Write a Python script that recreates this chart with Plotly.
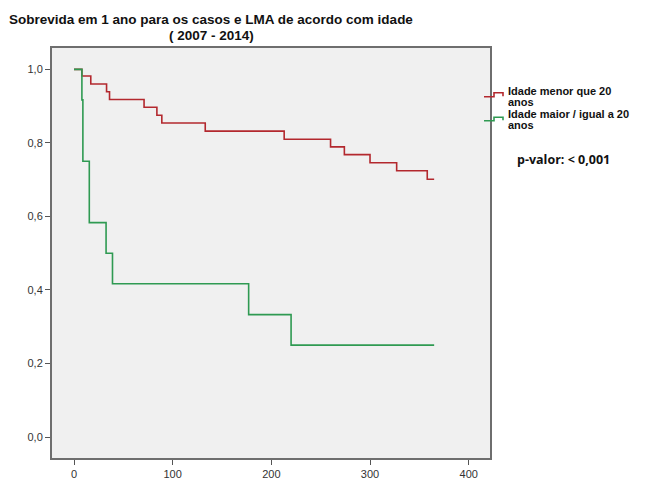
import plotly.graph_objects as go

# Kaplan-Meier survival estimates (days since diagnosis, cumulative survival)
dias_menor20 = [0, 8, 17, 33, 36, 71, 84, 89, 133, 213, 260, 274, 300, 327, 358, 365]
sobrev_menor20 = [1.0, 0.982, 0.960, 0.939, 0.918, 0.897, 0.875, 0.854, 0.832,
                  0.810, 0.789, 0.768, 0.746, 0.724, 0.701, 0.701]

dias_maior20 = [0, 8, 9, 15.5, 32.5, 39, 177, 220, 365]
sobrev_maior20 = [1.0, 0.917, 0.750, 0.583, 0.500, 0.417, 0.333, 0.250, 0.250]

grupos = ["Idade menor que 20<br>anos", "Idade maior / igual a 20<br>anos"]
cores = ["#b3282e", "#2f9a52"]
x_ticks = [0, 100, 200, 300, 400]
y_ticks = [0.0, 0.2, 0.4, 0.6, 0.8, 1.0]

W, H = 654, 495
L, R, T, B = 52, 164, 48, 37


def px(x):
    return (x - L) / (W - L - R)


def py(y):
    return 1 - (y - T) / (H - T - B)


fig = go.Figure()
for dias, sob, cor in [(dias_menor20, sobrev_menor20, cores[0]),
                       (dias_maior20, sobrev_maior20, cores[1])]:
    fig.add_trace(go.Scatter(x=dias, y=sob, mode="lines", line_shape="hv",
                             line=dict(color=cor, width=1.6), showlegend=False,
                             hoverinfo="skip"))

# legend: small step icons plus labels to the right of the plot
legenda_y = [(96.7, 92.7, 90.5, 101.5), (120.7, 117.2, 114, 125.5)]
for (y_lo, y_hi, _, _), cor in zip(legenda_y, cores):
    pts = [(484, y_lo), (494, y_lo), (494, y_hi), (503, y_hi), (503, y_lo - 0.5)]
    path = "M " + " L ".join(f"{px(a):.5f},{py(b):.5f}" for a, b in pts)
    fig.add_shape(type="path", path=path, xref="paper", yref="paper",
                  line=dict(color=cor, width=1.6))

annotations = []
for (y_lo, y_hi, y1, y2), texto in zip(legenda_y, grupos):
    linha1, linha2 = texto.split("<br>")
    for yy, t in [(y1, linha1), (y2, linha2)]:
        annotations.append(dict(x=px(506), y=py(yy), xref="paper", yref="paper",
                                text=f"<b>{t}</b>", showarrow=False,
                                xanchor="left", yanchor="middle",
                                font=dict(family="Liberation Sans", size=11, color="#111")))

annotations.append(dict(x=px(515), y=py(159), xref="paper", yref="paper",
                        text="<b>p-valor: < 0,001</b>", showarrow=False,
                        xanchor="left", yanchor="middle",
                        font=dict(family="Open Sans", size=12.5, color="#111")))

annotations.append(dict(x=px(211), y=py(20), xref="paper", yref="paper",
                        text="<b>Sobrevida em 1 ano para os casos e LMA de acordo com idade</b>",
                        showarrow=False, xanchor="center", yanchor="middle",
                        font=dict(family="Liberation Sans", size=13.5, color="#111")))
annotations.append(dict(x=px(211), y=py(35.5), xref="paper", yref="paper",
                        text="<b>( 2007 - 2014)</b>",
                        showarrow=False, xanchor="center", yanchor="middle",
                        font=dict(family="Liberation Sans", size=13.5, color="#111")))

fig.update_layout(
    width=W, height=H,
    margin=dict(l=L, r=R, t=T, b=B, pad=0),
    paper_bgcolor="white", plot_bgcolor="#f0f0f0",
    separators=",.",
    annotations=annotations,
    xaxis=dict(range=[-22.3, 421.6], tickvals=x_ticks, ticks="outside", ticklen=5,
               tickcolor="#555", showgrid=False, zeroline=False, showline=True,
               linecolor="#6e6e6e", linewidth=2, mirror=True,
               tickfont=dict(family="Liberation Sans", size=11, color="#333")),
    yaxis=dict(range=[-0.057, 1.058], tickvals=y_ticks, tickformat=".1f",
               ticks="outside", ticklen=5, tickcolor="#555", showgrid=False,
               zeroline=False, showline=True, linecolor="#6e6e6e", linewidth=2,
               mirror=True,
               tickfont=dict(family="Liberation Sans", size=11, color="#333")),
)

fig.write_html("out.html")
